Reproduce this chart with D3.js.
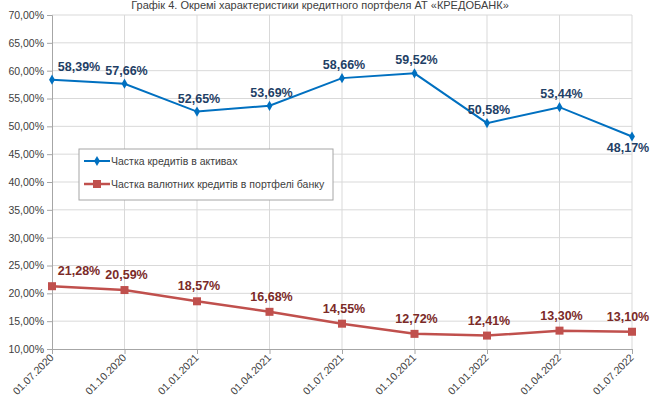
<!DOCTYPE html>
<html>
<head>
<meta charset="utf-8">
<script src="https://cdn.jsdelivr.net/npm/d3@7"></script>
<style>
  body { margin: 0; background: #fff; }
  svg { font-family: "Liberation Sans", Arial, sans-serif; }
</style>
</head>
<body>
<svg id="canvas"></svg>
<script>
let dates = ["01.07.2020", "01.10.2020", "01.01.2021", "01.04.2021", "01.07.2021", "01.10.2021", "01.01.2022", "01.04.2022", "01.07.2022"];
let loansShare = [58.39, 57.66, 52.65, 53.69, 58.66, 59.52, 50.58, 53.44, 48.17];
let fxShare = [21.28, 20.59, 18.57, 16.68, 14.55, 12.72, 12.41, 13.30, 13.10];
let yTicks = [10, 15, 20, 25, 30, 35, 40, 45, 50, 55, 60, 65, 70];

let width = 651;
let height = 400;
let plotLeft = 52, plotRight = 632, plotTop = 15, plotBottom = 349;

let canvas = d3.select("#canvas").attr("width", width).attr("height", height);

let xScale = d3.scalePoint().domain(dates).range([plotLeft, plotRight]);
let yScale = d3.scaleLinear().domain([10, 70]).range([plotBottom, plotTop]);

let fmt = (v) => v.toFixed(2).replace(".", ",") + "%";

// title
canvas.append("text")
  .attr("x", 320).attr("y", 9)
  .attr("text-anchor", "middle")
  .attr("font-size", 11).attr("fill", "#404040")
  .text("Графік 4. Окремі характеристики кредитного портфеля АТ «КРЕДОБАНК»");

// grid
canvas.append("g").selectAll("line").data(yTicks.slice(1)).enter().append("line")
  .attr("x1", plotLeft).attr("x2", plotRight)
  .attr("y1", (d) => yScale(d)).attr("y2", (d) => yScale(d))
  .attr("stroke", "#d9d9d9");
canvas.append("g").selectAll("line").data(dates.slice(1)).enter().append("line")
  .attr("x1", (d) => xScale(d)).attr("x2", (d) => xScale(d))
  .attr("y1", plotTop).attr("y2", plotBottom)
  .attr("stroke", "#d9d9d9");

// axes
let yAxis = d3.axisLeft(yScale).tickValues(yTicks).tickFormat(fmt).tickSize(5).tickPadding(3);
let yG = canvas.append("g").attr("transform", "translate(" + plotLeft + ",0)").call(yAxis);
yG.select(".domain").attr("stroke", "#a6a6a6");
yG.selectAll(".tick line").attr("stroke", "#a6a6a6");
yG.selectAll("text").attr("font-size", 10.5).attr("fill", "#404040");

let xAxis = d3.axisBottom(xScale).tickSize(5).tickPadding(2);
let xG = canvas.append("g").attr("transform", "translate(0," + plotBottom + ")").call(xAxis);
xG.select(".domain").attr("stroke", "#a6a6a6");
xG.selectAll(".tick line").attr("stroke", "#a6a6a6");
xG.selectAll("text")
  .attr("font-size", 10.5).attr("fill", "#404040")
  .attr("text-anchor", "end")
  .attr("dy", "0.35em")
  .attr("transform", "translate(0,6) rotate(-45)")
  .attr("y", 0).attr("x", -1);

// lines
let blue = "#0070C0", red = "#C0504D";
let line = d3.line().x((d, i) => xScale(dates[i])).y((d) => yScale(d));

canvas.append("path").datum(loansShare).attr("d", line)
  .attr("fill", "none").attr("stroke", blue).attr("stroke-width", 2);
canvas.append("path").datum(fxShare).attr("d", line)
  .attr("fill", "none").attr("stroke", red).attr("stroke-width", 2.5);

canvas.append("g").selectAll("path").data(loansShare).enter().append("path")
  .attr("d", d3.symbol(d3.symbolDiamond, 30))
  .attr("transform", (d, i) => "translate(" + xScale(dates[i]) + "," + yScale(d) + ")")
  .attr("fill", blue);
canvas.append("g").selectAll("rect").data(fxShare).enter().append("rect")
  .attr("x", (d, i) => xScale(dates[i]) - 4).attr("y", (d) => yScale(d) - 4)
  .attr("width", 8).attr("height", 8)
  .attr("fill", red);

// data labels
let shiftX = (i) => (i === 0 ? 27 : i === dates.length - 1 ? -4 : 2);
canvas.append("g").selectAll("text").data(loansShare).enter().append("text")
  .attr("x", (d, i) => xScale(dates[i]) + shiftX(i))
  .attr("y", (d, i) => yScale(d) + (i === dates.length - 1 ? 15 : -9))
  .attr("text-anchor", "middle")
  .attr("font-size", 12.5).attr("font-weight", "bold").attr("fill", "#1F3F66")
  .text(fmt);
canvas.append("g").selectAll("text").data(fxShare).enter().append("text")
  .attr("x", (d, i) => xScale(dates[i]) + shiftX(i))
  .attr("y", (d) => yScale(d) - 11)
  .attr("text-anchor", "middle")
  .attr("font-size", 12.5).attr("font-weight", "bold").attr("fill", "#7B2A28")
  .text(fmt);

// legend
let lg = canvas.append("g").attr("transform", "translate(79,149)");
lg.append("rect").attr("width", 254).attr("height", 51)
  .attr("fill", "#fff").attr("stroke", "#a6a6a6");
let items = [
  { label: "Частка кредитів в активах", color: blue, mark: "diamond" },
  { label: "Частка валютних кредитів в портфелі банку", color: red, mark: "square" }
];
items.forEach((it, i) => {
  let y = 12 + i * 23;
  lg.append("line").attr("x1", 5).attr("x2", 31).attr("y1", y).attr("y2", y)
    .attr("stroke", it.color).attr("stroke-width", it.mark === "square" ? 2.5 : 2);
  if (it.mark === "diamond") {
    lg.append("path").attr("d", d3.symbol(d3.symbolDiamond, 30))
      .attr("transform", "translate(18," + y + ")").attr("fill", it.color);
  } else {
    lg.append("rect").attr("x", 14).attr("y", y - 4).attr("width", 8).attr("height", 8)
      .attr("fill", it.color);
  }
  lg.append("text").attr("x", 32).attr("y", y + 4)
    .attr("font-size", 10.5).attr("fill", "#404040").text(it.label);
});
</script>
</body>
</html>
